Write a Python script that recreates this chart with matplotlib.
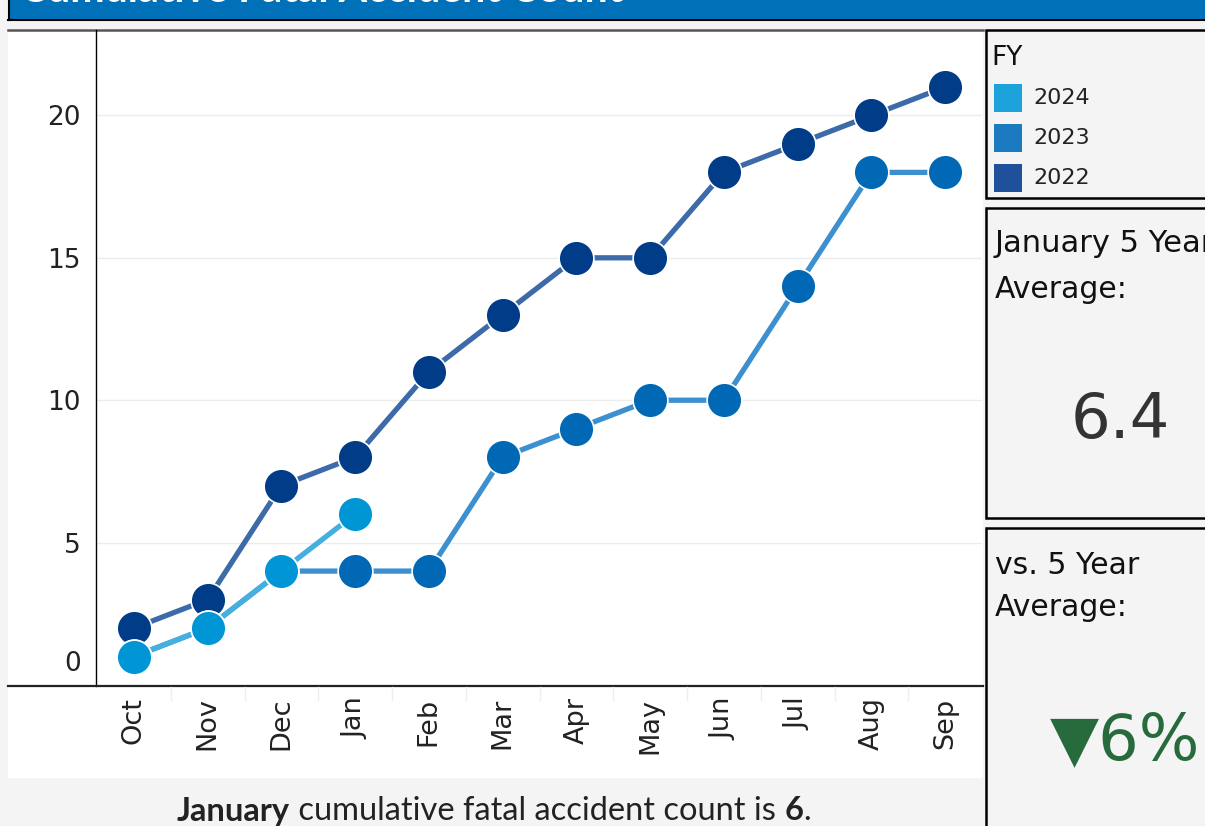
import matplotlib
matplotlib.use("Agg")
import matplotlib.pyplot as plt
from matplotlib.lines import Line2D
from matplotlib.patches import Rectangle

# data
months = ["Oct", "Nov", "Dec", "Jan", "Feb", "Mar", "Apr", "May", "Jun", "Jul", "Aug", "Sep"]
fy2022 = [2, 3, 7, 8, 11, 13, 15, 15, 18, 19, 20, 21]
fy2023 = [1, 2, 4, 4, 4, 8, 9, 10, 10, 14, 18, 18]
fy2024 = [1, 2, 4, 6]
legend_years = ["2024", "2023", "2022"]
avg_5yr = "6.4"
vs_avg = "\u25BC6%"
footnote = [("January", "bold"), (" cumulative fatal accident count is ", "normal"),
            ("6", "bold"), (".", "normal")]

W, H = 1205, 826
fig = plt.figure(figsize=(W / 100, H / 100), dpi=100)
fig.patch.set_facecolor("#f4f4f4")


def px_axes(x0, y0, x1, y1, **kw):
    return fig.add_axes([x0 / W, 1 - y1 / H, (x1 - x0) / W, (y1 - y0) / H], **kw)


def hline(x0, x1, y, color="black", lw=1.0):
    fig.add_artist(Line2D([x0 / W, x1 / W], [1 - y / H, 1 - y / H], color=color, lw=lw, zorder=5))


def vline(x, y0, y1, color="black", lw=1.0):
    fig.add_artist(Line2D([x / W, x / W], [1 - y0 / H, 1 - y1 / H], color=color, lw=lw, zorder=5))


def rect(x0, y0, x1, y1, **kw):
    fig.add_artist(Rectangle((x0 / W, 1 - y1 / H), (x1 - x0) / W, (y1 - y0) / H,
                             transform=fig.transFigure, **kw))


# title bar
rect(8, -5, W + 5, 20, facecolor="#0070b8", edgecolor="none", zorder=-2)
hline(8, W, 20, "black", 1.5)
vline(9, 0, 20, "black", 1.5)
fig.text(20 / W, 1 - 2.5 / H, "Cumulative Fatal Accident Count", color="white",
         fontsize=29.5, fontweight="bold", family="Lato", va="baseline", ha="left")

# white chart area
rect(8, 29, 983, 778, facecolor="white", edgecolor="none", zorder=-2)
hline(8, 983, 29.5, "#555555", 1.8)

ax = px_axes(97, 30, 982, 685)
ax.set_facecolor("white")
x = list(range(len(months)))

c_line = {"2022": "#3d6aa8", "2023": "#3d90d0", "2024": "#45b0e0"}
c_mark = {"2022": "#003c88", "2023": "#0068b4", "2024": "#0096d6"}
series = [("2022", fy2022), ("2023", fy2023), ("2024", fy2024)]
for name, vals in series:
    xs = x[:len(vals)]
    ax.plot(xs, vals, "-", color=c_line[name], lw=3.8, zorder=2, solid_capstyle="butt")
    ax.plot(xs, vals, "o", color=c_mark[name], markersize=25, markeredgecolor="white",
            markeredgewidth=1.2, zorder=3, clip_on=False)

ax.set_xlim(-0.5, 11.5)
ax.set_ylim(0, 23)
ax.set_yticks([5, 10, 15, 20])
ax.set_yticklabels(["5", "10", "15", "20"])
ax.grid(axis="y", color="#ececec", lw=1.0)
ax.set_axisbelow(True)
for s in ax.spines.values():
    s.set_visible(False)
ax.tick_params(axis="y", length=0, labelsize=19, labelcolor="#222222", pad=12)
ax.set_xticks(x)
ax.set_xticklabels(months, rotation=90, fontsize=19.5, color="#222222")
ax.tick_params(axis="x", length=0, pad=9)
# the zero label sits just above the baseline
fig.text(81 / W, 1 - 677 / H, "0", fontsize=19, color="#222222", ha="right", va="bottom")

# axis lines
vline(96, 30, 686, "black", 1.0)
hline(8, 983, 686, "#222222", 1.6)
for i in range(1, 12):
    xb = 97 + (982 - 97) / 12 * i
    vline(xb, 687, 700, "#eeeeee", 1.0)

# footnote, pieces laid out one after another and centred as a whole
fig.canvas.draw()
renderer = fig.canvas.get_renderer()
pieces = []
total = 0
for s, w in footnote:
    t = fig.text(0, 1 - 811 / H, s, fontsize=23.5, family="Lato", fontweight=w,
                 ha="left", va="center", color="#222222")
    wpx = t.get_window_extent(renderer).width
    pieces.append((t, wpx))
    total += wpx
xcur = 494 - total / 2
for t, wpx in pieces:
    t.set_x(xcur / W)
    xcur += wpx


# right panels
def panel(y0, y1):
    rect(986, y0, W + 5, y1, facecolor="#f4f4f4", edgecolor="black", lw=1.8, zorder=1)


panel(30, 198)
panel(208, 518)
panel(528, H + 5)

fig.text(991 / W, 1 - 58 / H, "FY", fontsize=19, fontweight="medium", ha="left", va="center",
         color="#111111")
leg_colors = ["#1ca3dc", "#1c7bc0", "#1e5199"]
for i, (yr, col) in enumerate(zip(legend_years, leg_colors)):
    yc = 98 + 40 * i
    rect(994, yc - 14, 1022, yc + 14, facecolor=col, edgecolor="none", zorder=2)
    fig.text(1033 / W, 1 - yc / H, yr, fontsize=16, ha="left", va="center", color="#222222")

fig.text(995 / W, 1 - 244 / H, "January 5 Year", fontsize=22, ha="left", va="center",
         color="#111111")
fig.text(995 / W, 1 - 289 / H, "Average:", fontsize=21.5, ha="left", va="center", color="#111111")
fig.text(1120 / W, 1 - 421 / H, avg_5yr, fontsize=45, ha="center", va="center", color="#333333")

fig.text(995 / W, 1 - 565 / H, "vs. 5 Year", fontsize=21.5, ha="left", va="center",
         color="#111111")
fig.text(995 / W, 1 - 608 / H, "Average:", fontsize=21.5, ha="left", va="center", color="#111111")
fig.text(1125 / W, 1 - 741 / H, vs_avg, fontsize=46, ha="center", va="center", color="#276b3c")

fig.savefig("out.png", dpi=100, facecolor=fig.get_facecolor())
